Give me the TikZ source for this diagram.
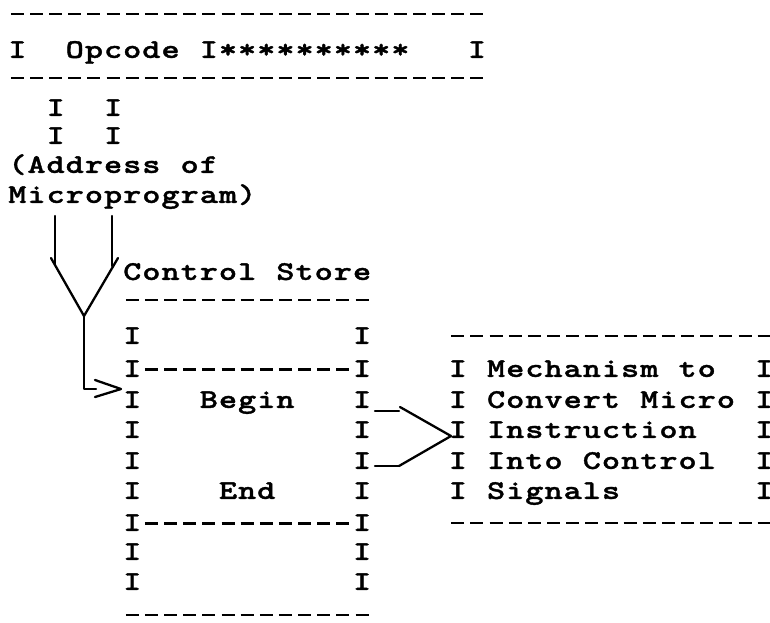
\documentclass[tikz,border=0pt]{standalone}
\usepackage{fontspec}
\newfontfamily\tyf{lmmonolt10-bold.otf}[FakeStretch=1.28,FakeBold=1.3]
\newlength\pitch \setlength\pitch{19.15pt}
\makeatletter
\def\tw#1{\tw@i#1\relax}
\def\tw@i#1{\ifx#1\relax\else\tw@c#1\expandafter\tw@i\fi}
\def\tw@c#1{\ifx#1-\makebox[\pitch][c]{\rule[6.2pt]{13pt}{2.6pt}}\else\makebox[\pitch][c]{#1}\fi}
\makeatother
\tikzset{
  row/.style={anchor=base west, inner sep=0pt, outer sep=0pt,
    font=\tyf\fontsize{27}{30}\selectfont},
  hand/.style={line width=2.3pt, line cap=round, line join=round}
}
\begin{document}
\begin{tikzpicture}[x=1pt,y=1pt]
\useasboundingbox (0,0) rectangle (770,-622);
% opcode register
\node[row] (r0) at (7.8,-21.4) {\tw{-------------------------}};
\node[row] (r1) at (7.8,-57.9) {\tw{I~~Opcode~I**********~~~I}};
\node[row] (r2) at (7.8,-85.4) {\tw{-------------------------}};
\node[row] (r3) at (7.8,-115.9) {\tw{~~I~~I}};
\node[row] (r4) at (7.8,-143.9) {\tw{~~I~~I}};
\node[row] (r5) at (7.8,-172.9) {\tw{(Address~of}};
\node[row] (r6) at (7.8,-202.9) {\tw{Microprogram)}};
% control store
\node[row] (cs) at (122.7,-279.9) {\tw{Control~Store}};
\node[row] (c0) at (122.7,-307.4) {\tw{-------------}};
\node[row] (c1) at (122.7,-343.9) {\tw{I~~~~~~~~~~~I}};
\node[row] (c2) at (122.7,-376.9) {\tw{I-----------I}};
\node[row] (c3) at (122.7,-407.9) {\tw{I~~~Begin~~~I}};
\node[row] (c4) at (122.7,-437.9) {\tw{I~~~~~~~~~~~I}};
\node[row] (c5) at (122.7,-468.9) {\tw{I~~~~~~~~~~~I}};
\node[row] (c6) at (122.7,-498.9) {\tw{I~~~~End~~~~I}};
\node[row] (c7) at (122.7,-530.9) {\tw{I-----------I}};
\node[row] (c8) at (122.7,-559.9) {\tw{I~~~~~~~~~~~I}};
\node[row] (c9) at (122.7,-589.9) {\tw{I~~~~~~~~~~~I}};
\node[row] (c10) at (122.7,-622.4) {\tw{-------------}};
% mechanism box
\node[row] (m0) at (448.25,-343.4) {\tw{-----------------}};
\node[row] (m1) at (448.25,-376.9) {\tw{I~Mechanism~to~~I}};
\node[row] (m2) at (448.25,-407.9) {\tw{I~Convert~Micro~I}};
\node[row] (m3) at (448.25,-437.9) {\tw{I~Instruction~~~I}};
\node[row] (m4) at (448.25,-468.9) {\tw{I~Into~Control~~I}};
\node[row] (m5) at (448.25,-498.9) {\tw{I~Signals~~~~~~~I}};
\node[row] (m6) at (448.25,-530.4) {\tw{-----------------}};
% hand-drawn connectors
\coordinate (la) at (55,-216);
\coordinate (lb) at (55,-265);
\coordinate (ra) at (112,-216);
\coordinate (rb) at (112,-266);
\coordinate (vl) at (51,-258);
\coordinate (v0) at (84,-316);
\coordinate (vr) at (118,-258);
\coordinate (st) at (84,-389);
\coordinate (sh) at (96,-389);
\coordinate (ah) at (121,-389);
\draw[hand] (la) -- (lb);
\draw[hand] (ra) -- (rb);
\draw[hand] (vl) -- (v0) -- (vr);
\draw[hand] (v0) -- (st) -- (sh);
\draw[hand] (95,-380) -- (ah) -- (95,-397);
\coordinate (u1) at (375,-411);
\coordinate (u2) at (399,-411);
\coordinate (d1) at (375,-466);
\coordinate (d2) at (399,-466);
\coordinate (tip) at (451,-436);
\draw[hand] (u1) -- (u2);
\draw[hand] (d1) -- (d2);
\draw[hand] (400,-407) -- (tip) -- (d2);
\end{tikzpicture}
\end{document}
